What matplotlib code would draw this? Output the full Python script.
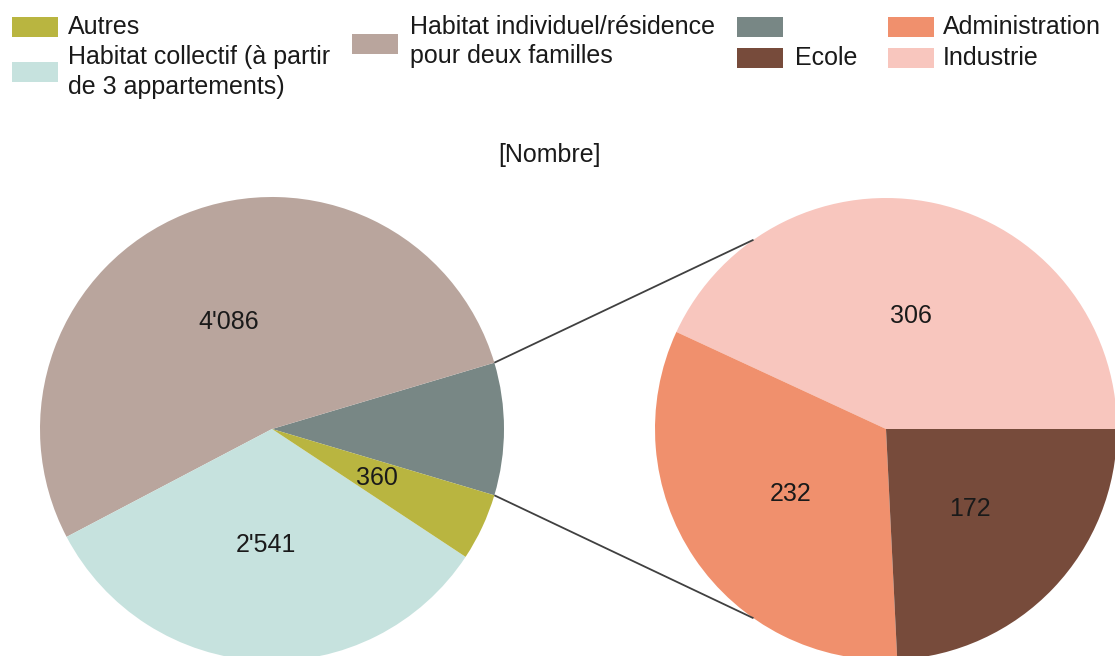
import matplotlib
matplotlib.use("Agg")
import matplotlib.pyplot as plt
from matplotlib.patches import Rectangle
import numpy as np

plt.rcParams['font.family'] = ['Liberation Sans', 'DejaVu Sans']

# ---- data ----
main_labels = ["", "Habitat individuel/résidence\npour deux familles",
               "Habitat collectif (à partir\nde 3 appartements)", "Autres"]
sub_labels = ["Industrie", "Administration", "Ecole"]
sub_values = [306, 232, 172]
main_values = [sum(sub_values), 4086, 2541, 360]

main_colors = ["#788785", "#B9A59D", "#C6E2DE", "#B9B540"]
sub_colors = ["#F8C6BE", "#F0906D", "#774B3B"]

W, H = 1115, 656
fig = plt.figure(figsize=(W / 100, H / 100), dpi=100)
ax = fig.add_axes([0, 0, 1, 1])
ax.set_xlim(0, W)
ax.set_ylim(0, H)
ax.set_aspect('equal')
ax.axis('off')

def fmt(v):
    return f"{v:,}".replace(",", "'")

FS = 18
TXT = "#1a1a1a"

# main pie
c1 = (272, H - 429)
r1 = 232
grey_angle = main_values[0] / sum(main_values) * 360
w1, _ = ax.pie(main_values, colors=main_colors, center=c1, radius=r1,
               startangle=-grey_angle / 2, counterclock=True, frame=True,
               wedgeprops=dict(linewidth=0))
for w, v, lab in zip(w1, main_values, main_labels):
    if not lab:
        continue
    a = np.deg2rad((w.theta1 + w.theta2) / 2)
    ax.text(c1[0] + 0.5 * r1 * np.cos(a), c1[1] + 0.5 * r1 * np.sin(a), fmt(v),
            ha='center', va='center', fontsize=FS, color=TXT)

# secondary pie
c2 = (886, H - 429)
r2 = 231
w2, _ = ax.pie(sub_values, colors=sub_colors, center=c2, radius=r2,
               startangle=0, counterclock=True, frame=True,
               wedgeprops=dict(linewidth=0))
for w, v in zip(w2, sub_values):
    a = np.deg2rad((w.theta1 + w.theta2) / 2)
    ax.text(c2[0] + 0.5 * r2 * np.cos(a), c2[1] + 0.5 * r2 * np.sin(a), fmt(v),
            ha='center', va='center', fontsize=FS, color=TXT)

ax.set_xlim(0, W)
ax.set_ylim(0, H)
ax.axis('off')

# connector lines
g = w1[0]
conn = 55
for ta, tb in [(g.theta2, 180 - conn), (g.theta1, 180 + conn)]:
    ta, tb = np.deg2rad(ta), np.deg2rad(tb)
    ax.plot([c1[0] + r1 * np.cos(ta), c2[0] + r2 * np.cos(tb)],
            [c1[1] + r1 * np.sin(ta), c2[1] + r2 * np.sin(tb)],
            color="#404040", lw=1.3, solid_capstyle='butt')

# title
ax.text(550, H - 155, "[Nombre]", ha='center', va='center', fontsize=FS, color=TXT)

# legend (manual)
leg = [
    (main_labels[3], main_colors[3], 12, 27, 68, [27]),
    (main_labels[2], main_colors[2], 12, 72, 68, [57, 87]),
    (main_labels[1], main_colors[1], 352, 44, 410, [27, 56]),
    ("", main_colors[0], 737, 27, 795, [27]),
    (sub_labels[2], sub_colors[2], 737, 58, 795, [58]),
    (sub_labels[1], sub_colors[1], 888, 27, 943, [27]),
    (sub_labels[0], sub_colors[0], 888, 58, 943, [58]),
]
for lab, col, sx, sy, tx, tys in leg:
    ax.add_patch(Rectangle((sx, H - sy - 10), 46, 20, facecolor=col,
                           edgecolor='none'))
    for line, ty in zip(lab.split("\n") if lab else [], tys):
        ax.text(tx, H - ty, line, ha='left', va='center', fontsize=FS, color=TXT)

fig.savefig("out.png", dpi=100)
